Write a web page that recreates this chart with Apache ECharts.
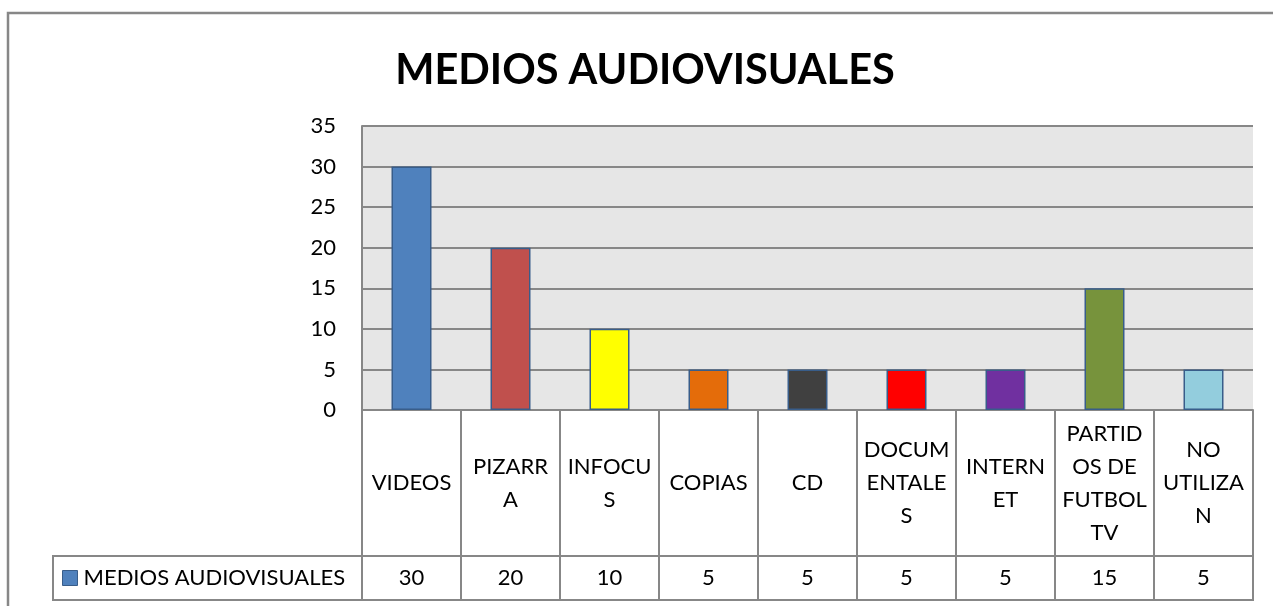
<!DOCTYPE html>
<html>
<head>
<meta charset="utf-8">
<script src="https://cdn.jsdelivr.net/npm/echarts@6/dist/echarts.min.js"></script>
<style>
html,body{margin:0;padding:0;background:#fff;}
#chart{width:1273px;height:606px;}
</style>
</head>
<body>
<div id="chart"></div>
<script>
const chartTitle = 'MEDIOS AUDIOVISUALES';
const seriesName = 'MEDIOS AUDIOVISUALES';
const categories = ['VIDEOS', 'PIZARRA', 'INFOCUS', 'COPIAS', 'CD', 'DOCUMENTALES', 'INTERNET', 'PARTIDOS DE FUTBOL TV', 'NO UTILIZAN'];
const tickLabels = ['VIDEOS', 'PIZARR\nA', 'INFOCU\nS', 'COPIAS', 'CD', 'DOCUM\nENTALE\nS', 'INTERN\nET', 'PARTID\nOS DE\nFUTBOL\nTV', 'NO\nUTILIZA\nN'];
const values = [30, 20, 10, 5, 5, 5, 5, 15, 5];
const yTicks = [0, 5, 10, 15, 20, 25, 30, 35];
const barColors = ['#4f81bd', '#c0504d', '#ffff00', '#e46c0a', '#404040', '#ff0000', '#7030a0', '#77933c', '#93cddd'];

const FONT = 'Lato';
const GRAY = '#878787';
const chart = echarts.init(document.getElementById('chart'), null, {renderer: 'canvas'});

const option = {
  animation: false,
  backgroundColor: '#ffffff',
  title: {
    text: chartTitle,
    left: 645,
    textAlign: 'center',
    top: 50,
    padding: 0,
    textStyle: {fontFamily: FONT, fontWeight: 'bold', fontSize: 41.5, color: '#000'}
  },
  legend: {
    data: [seriesName],
    left: 62,
    top: 567,
    padding: 0,
    itemWidth: 15,
    itemHeight: 15,
    itemGap: 6,
    icon: 'rect',
    textStyle: {fontFamily: FONT, fontSize: 22, color: '#000', padding: [0, 0, 0, 1]},
    itemStyle: {borderColor: '#385d8a', borderWidth: 1}
  },
  grid: {
    left: 362, right: 20, top: 126, bottom: 196,
    show: true, backgroundColor: '#e6e6e6', borderWidth: 0,
    containLabel: false
  },
  xAxis: [
    {
      type: 'category',
      data: categories,
      position: 'bottom',
      boundaryGap: true,
      axisLine: {show: true, lineStyle: {color: GRAY, width: 2}},
      axisTick: {show: true, length: 190, inside: false, lineStyle: {color: GRAY, width: 2}},
      axisLabel: {
        interval: 0,
        margin: 73,
        verticalAlign: 'middle',
        align: 'center',
        lineHeight: 33,
        fontFamily: FONT, fontSize: 22, color: '#000',
        formatter: (v, i) => tickLabels[i]
      },
      splitLine: {show: false}
    },
    {
      type: 'category',
      data: values.map(String),
      position: 'bottom',
      offset: 146,
      boundaryGap: true,
      axisLine: {show: true, lineStyle: {color: GRAY, width: 2}},
      axisTick: {show: false},
      axisLabel: {
        interval: 0, margin: 22, verticalAlign: 'middle', align: 'center',
        fontFamily: FONT, fontSize: 22, color: '#000'
      },
      splitLine: {show: false}
    }
  ],
  yAxis: {
    type: 'value',
    min: yTicks[0],
    max: yTicks[yTicks.length - 1],
    interval: 5,
    axisLine: {show: true, lineStyle: {color: GRAY, width: 2}},
    axisTick: {show: false},
    axisLabel: {margin: 26, fontFamily: FONT, fontSize: 22, color: '#000'},
    splitLine: {show: true, lineStyle: {color: GRAY, width: 2}}
  },
  series: [{
    name: seriesName,
    type: 'bar',
    xAxisIndex: 0,
    barWidth: 40,
    itemStyle: {color: barColors[0], borderColor: '#385d8a', borderWidth: 1.5},
    data: values.map((v, i) => ({value: v, itemStyle: {color: barColors[i]}})),
    z: 3
  }],
  graphic: [
    {
      type: 'rect',
      shape: {x: 8, y: 13, width: 1300, height: 700},
      style: {fill: 'none', stroke: GRAY, lineWidth: 2.5},
      z: 0, silent: true
    },
    {
      type: 'rect',
      shape: {x: 53, y: 556, width: 1200, height: 44},
      style: {fill: 'none', stroke: GRAY, lineWidth: 2},
      z: 0, silent: true
    }
  ]
};
chart.setOption(option);
</script>
</body>
</html>
